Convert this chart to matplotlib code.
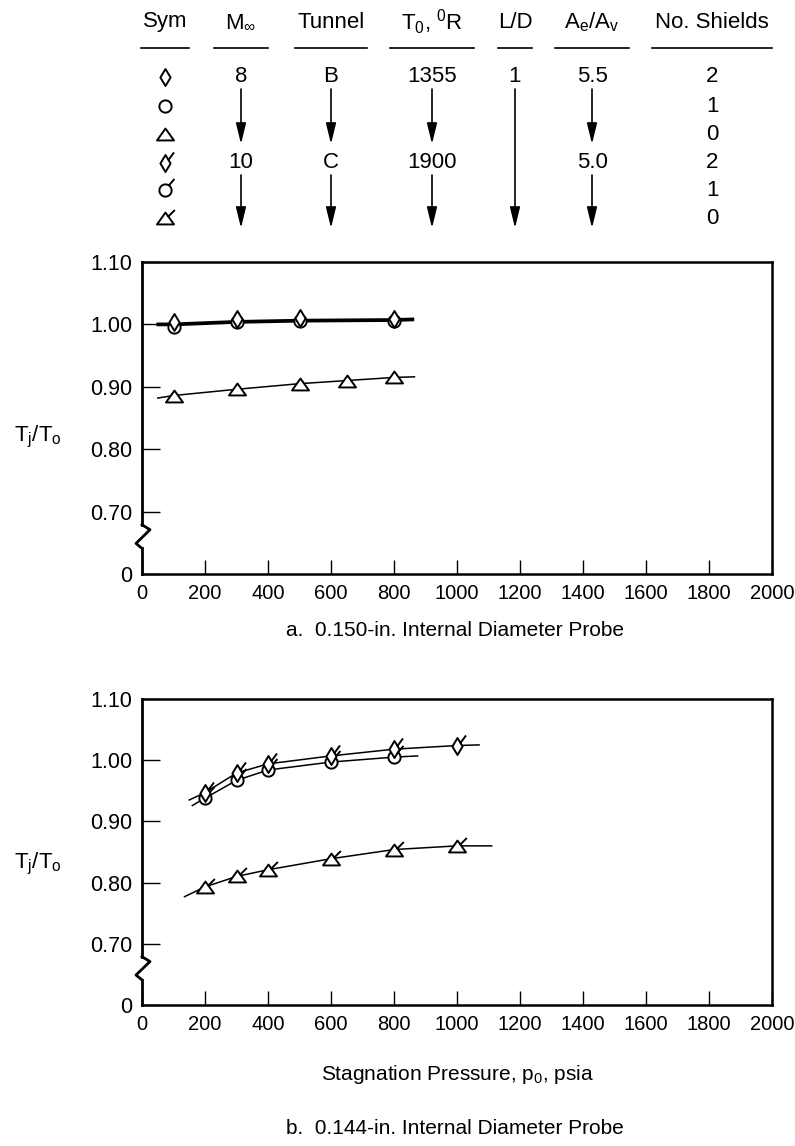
import numpy as np
import matplotlib
matplotlib.use('Agg')
import matplotlib.pyplot as plt
from matplotlib.path import Path
from matplotlib.transforms import blended_transform_factory

plt.rcParams['font.family'] = ['Liberation Sans', 'DejaVu Sans']
plt.rcParams['mathtext.fontset'] = 'custom'
plt.rcParams['mathtext.rm'] = 'Liberation Sans'
plt.rcParams['mathtext.it'] = 'Liberation Sans'

# ---- data ----
# panel a : 0.150-in. probe
a_p_dia = [100, 300, 500, 800]
a_t_dia = [1.004, 1.009, 1.010, 1.008]
a_p_cir = [100, 300, 500, 800]
a_t_cir = [0.996, 1.004, 1.006, 1.005]
a_p_tri = [100, 300, 500, 650, 800]
a_t_tri = [0.886, 0.896, 0.905, 0.910, 0.915]
# faired curves panel a
a_fair_p = [50, 100, 300, 500, 800, 860]
a_fair_dia = [1.001, 1.001, 1.005, 1.007, 1.008, 1.009]
a_fair_cir = [0.999, 0.999, 1.003, 1.005, 1.006, 1.007]
a_fair_tri_p = [50, 100, 300, 500, 650, 800, 865]
a_fair_tri = [0.882, 0.886, 0.896, 0.905, 0.910, 0.915, 0.916]

# panel b : 0.144-in. probe
b_p_dia = [200, 300, 400, 600, 800, 1000]
b_t_dia = [0.947, 0.979, 0.994, 1.007, 1.018, 1.024]
b_p_cir = [200, 300, 400, 600, 800]
b_t_cir = [0.938, 0.967, 0.984, 0.997, 1.005]
b_p_tri = [200, 300, 400, 600, 800, 1000]
b_t_tri = [0.793, 0.810, 0.821, 0.839, 0.854, 0.860]
b_fair_dia_p = [150, 200, 300, 400, 600, 800, 1000, 1070]
b_fair_dia = [0.935, 0.947, 0.979, 0.994, 1.007, 1.018, 1.024, 1.025]
b_fair_cir_p = [160, 200, 300, 400, 600, 800, 875]
b_fair_cir = [0.926, 0.938, 0.967, 0.984, 0.997, 1.005, 1.007]
b_fair_tri_p = [135, 200, 300, 400, 600, 800, 1000, 1110]
b_fair_tri = [0.777, 0.793, 0.810, 0.821, 0.839, 0.854, 0.860, 0.860]

x_ticks = [0, 200, 400, 600, 800, 1000, 1200, 1400, 1600, 1800, 2000]
y_ticks = [0.6, 0.7, 0.8, 0.9, 1.0, 1.1]
y_ticklabels = ['0', '0.70', '0.80', '0.90', '1.00', '1.10']

# legend table
headers = ['Sym', r'M$_\infty$', 'Tunnel', r'T$_0$, $^0$R', 'L/D', r'A$_e$/A$_v$', 'No. Shields']
mach = ['8', '', '', '10', '', '']
tunnel = ['B', '', '', 'C', '', '']
t0 = ['1355', '', '', '1900', '', '']
ld = ['1', '', '', '', '', '']
area = ['5.5', '', '', '5.0', '', '']
shields = ['2', '1', '0', '2', '1', '0']


# ---- symbols ----
def shape(pts, flag=None):
    verts = list(pts) + [pts[0]]
    codes = [Path.MOVETO] + [Path.LINETO] * (len(pts) - 1) + [Path.CLOSEPOLY]
    if flag is not None:
        verts += flag
        codes += [Path.MOVETO, Path.LINETO]
    return Path(verts, codes)

ang = np.linspace(0, 2 * np.pi, 32, endpoint=False)
dia_pts = [(0, 1), (0.6, 0), (0, -1), (-0.6, 0)]
cir_pts = list(zip(0.72 * np.cos(ang), 0.72 * np.sin(ang)))
tri_pts = [(0, 0.7), (1.0, -0.7), (-1.0, -0.7)]

m_dia = shape(dia_pts)
m_cir = shape(cir_pts)
m_tri = shape(tri_pts)
m_dia_f = shape(dia_pts, [(0.35, 0.42), (1.0, 1.3)])
m_cir_f = shape(cir_pts, [(0.4, 0.6), (1.05, 1.35)])
m_tri_f = shape(tri_pts, [(0.3, 0.2), (1.1, 1.0)])

UNIT_PX = 8.5
def ms(path):
    return 2 * np.abs(path.vertices).max() * UNIT_PX * 72 / 100

def sym(ax, x, y, m, **kw):
    ax.plot(x, y, ls='none', marker=m, ms=ms(m), mfc='white', mec='black',
            mew=1.4, zorder=5, clip_on=False, **kw)


fig = plt.figure(figsize=(7.95, 11.46), dpi=100)
W, H = 795, 1146

# overlay in pixel units for the table and captions
ov = fig.add_axes([0, 0, 1, 1])
ov.set_xlim(0, W)
ov.set_ylim(H, 0)
ov.axis('off')

col_x = [165, 241, 331, 432, 515, 592, 712]
under_half = [24, 27, 36, 42, 17, 37, 60]
head_y = 22
under_y = 48
row_y = [77, 106, 134, 163, 190, 218]
fs = 16

for cx, hw, h in zip(col_x, under_half, headers):
    ov.text(cx, head_y, h, ha='center', va='center', fontsize=fs)
    ov.plot([cx - hw, cx + hw], [under_y, under_y], color='black', lw=1.2)

for ry, m in zip(row_y, [m_dia, m_cir, m_tri, m_dia_f, m_cir_f, m_tri_f]):
    sym(ov, [col_x[0]], [ry], m)

for cx, col in zip(col_x[1:], [mach, tunnel, t0, ld, area, shields]):
    for i, v in enumerate(col):
        if v == '':
            continue
        ov.text(cx, row_y[i], v, ha='center', va='center', fontsize=fs)
        j = i + 1
        while j < len(col) and col[j] == '':
            j += 1
        if j - 1 > i:
            ov.annotate('', xy=(cx, row_y[j - 1] + 10), xytext=(cx, row_y[i] + 12),
                        arrowprops=dict(arrowstyle='-|>,head_length=0.9,head_width=0.22',
                                        lw=1.2, color='black', shrinkA=0, shrinkB=0,
                                        mutation_scale=14))

def panel(rect, ylab_y):
    ax = fig.add_axes(rect)
    ax.set_xlim(0, 2000)
    ax.set_ylim(0.6, 1.1)
    ax.set_xticks(x_ticks)
    ax.set_xticklabels([str(v) for v in x_ticks])
    ax.set_yticks(y_ticks)
    ax.set_yticklabels(y_ticklabels)
    ax.tick_params(direction='in', length=10, width=1.0, labelsize=14.5, pad=7)
    ax.tick_params(axis='y', length=13, labelsize=15.5)
    for s in ['top', 'right', 'bottom']:
        ax.spines[s].set_linewidth(1.8)
    ax.spines['left'].set_visible(False)
    tr = blended_transform_factory(ax.transAxes, ax.transData)
    lw = 2.0
    ax.plot([0, 0], [0.679, 1.1], color='black', lw=lw, transform=tr, clip_on=False, zorder=6)
    ax.plot([0, 0], [0.6, 0.641], color='black', lw=lw, transform=tr, clip_on=False, zorder=6)
    ax.plot([0, 8 / 630, -6 / 630, 0], [0.679, 0.671, 0.649, 0.641], color='black',
            lw=lw, transform=tr, clip_on=False, zorder=6)
    ax.set_ylabel(r'T$_j$/T$_o$', rotation=0, fontsize=fs, ha='center', va='center')
    ax.yaxis.set_label_coords(-0.165, ylab_y)
    return ax

ax1 = panel([142 / W, 1 - 574 / H, 630 / W, 312 / H], 0.44)
ax1.plot(a_fair_p, a_fair_dia, color='black', lw=1.8)
ax1.plot(a_fair_p, a_fair_cir, color='black', lw=1.8)
ax1.plot(a_fair_tri_p, a_fair_tri, color='black', lw=1.1)
sym(ax1, a_p_cir, a_t_cir, m_cir)
sym(ax1, a_p_dia, a_t_dia, m_dia)
sym(ax1, a_p_tri, a_t_tri, m_tri)

ax2 = panel([142 / W, 1 - 1005 / H, 630 / W, 306 / H], 0.46)
ax2.plot(b_fair_dia_p, b_fair_dia, color='black', lw=1.1)
ax2.plot(b_fair_cir_p, b_fair_cir, color='black', lw=1.1)
ax2.plot(b_fair_tri_p, b_fair_tri, color='black', lw=1.1)
sym(ax2, b_p_cir, b_t_cir, m_cir_f)
sym(ax2, b_p_dia, b_t_dia, m_dia_f)
sym(ax2, b_p_tri, b_t_tri, m_tri_f)

ov.text(455, 631, 'a.  0.150-in. Internal Diameter Probe', ha='center', va='center', fontsize=15)
ov.text(458, 1075, r'Stagnation Pressure, p$_0$, psia', ha='center', va='center', fontsize=15)
ov.text(455, 1128, 'b.  0.144-in. Internal Diameter Probe', ha='center', va='center', fontsize=15)

fig.savefig('out.png', dpi=100)
